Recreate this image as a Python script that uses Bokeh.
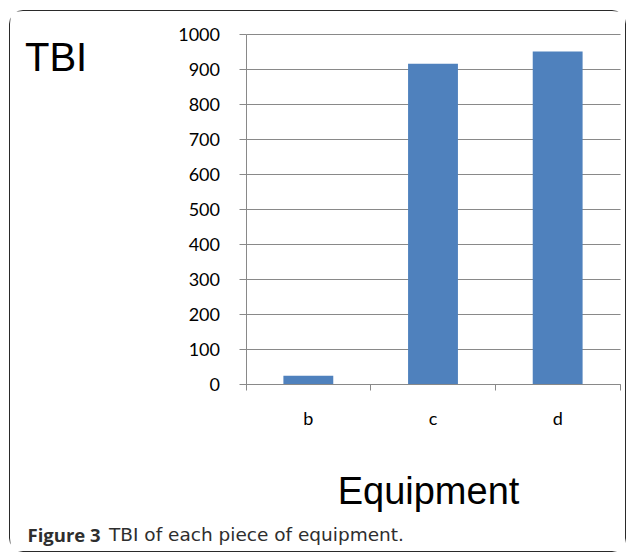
from bokeh.plotting import figure
from bokeh.models import Range1d, FixedTicker, Label
from bokeh.embed import file_html
from bokeh.resources import INLINE

categories = ["b", "c", "d"]
values = [25, 915, 950]
y_ticks = [0, 100, 200, 300, 400, 500, 600, 700, 800, 900, 1000]
y_max = 1000

GRAY = "#898989"
BAR = "#4F81BD"
CAPTION = "#2e2e2e"

# canvas geometry (pixels)
W, H = 617, 542
OX, OY = 10.5, 11.5            # canvas origin within the page picture
AX_L, AX_R = 246.0, 620.0      # pixel x of the plot area's left / right
AX_B, AX_T = 384.5, 34.0       # pixel y of value 0 / value y_max
n = len(categories)


def dx(px):
    return (px - AX_L) / (AX_R - AX_L) * n


def dy(py):
    return (AX_B - py) / (AX_B - AX_T) * y_max


p = figure(width=W, height=H, output_backend="svg", toolbar_location=None,
           x_range=Range1d(dx(OX), dx(OX + W)), y_range=Range1d(dy(OY + H), dy(OY)),
           min_border_left=0, min_border_right=0, min_border_top=0, min_border_bottom=0)
p.styles = {"border": "1.5px solid #2a2a2a", "border-radius": "14px",
            "margin-left": "9px", "margin-top": "10px"}
p.outline_line_color = None

xs = [i + 0.5 for i in range(n)]
p.vbar(x=xs, top=values, width=0.4, bottom=0, fill_color=BAR, line_color=None)

# x axis
p.xaxis.fixed_location = 0
p.xaxis.bounds = (0, n)
p.xaxis.ticker = FixedTicker(ticks=xs, minor_ticks=list(range(n + 1)))
p.xaxis.major_label_overrides = {x: c for x, c in zip(xs, categories)}
p.xaxis.major_tick_out = 0
p.xaxis.major_tick_in = 0
p.xaxis.minor_tick_out = 6
p.xaxis.minor_tick_in = 0
p.xaxis.minor_tick_line_color = GRAY
p.xaxis.axis_line_color = GRAY
p.xaxis.major_label_text_font = "Lato"
p.xaxis.major_label_text_font_size = "18px"
p.xaxis.major_label_text_color = "black"
p.xaxis.major_label_standoff = 16

# y axis
p.yaxis.fixed_location = 0
p.yaxis.bounds = (0, y_max)
p.yaxis.ticker = FixedTicker(ticks=y_ticks)
p.yaxis.major_tick_out = 7
p.yaxis.major_tick_in = 0
p.yaxis.minor_tick_line_color = None
p.yaxis.major_tick_line_color = GRAY
p.yaxis.axis_line_color = GRAY
p.yaxis.major_label_text_font = "Lato"
p.yaxis.major_label_text_font_size = "18px"
p.yaxis.major_label_text_color = "black"
p.yaxis.major_label_standoff = 19

p.xgrid.grid_line_color = None
p.ygrid.ticker = FixedTicker(ticks=y_ticks)
p.ygrid.bounds = (0, y_max)
p.ygrid.cross_bounds = (0, n)
p.ygrid.grid_line_color = GRAY

p.add_layout(Label(x=dx(25), y=dy(56.7), text="TBI", text_font="Liberation Sans",
                   text_font_size="40px", text_color="black", text_baseline="alphabetic"))
p.add_layout(Label(x=dx(428.5), y=dy(490.5), text="Equipment", text_font="Liberation Sans",
                   text_font_size="38px", text_color="black", text_align="center",
                   text_baseline="alphabetic"))
p.add_layout(Label(x=dx(27.5), y=dy(534.5), text="Figure 3", text_font="Open Sans",
                   text_font_size="18.5px", text_font_style="bold", text_color=CAPTION,
                   text_baseline="alphabetic"))
p.add_layout(Label(x=dx(109), y=dy(534.5), text="TBI of each piece of equipment.",
                   text_font="DejaVu Sans", text_font_size="18.5px", text_color=CAPTION,
                   text_baseline="alphabetic"))

open("out.html", "w").write(file_html(p, INLINE))
